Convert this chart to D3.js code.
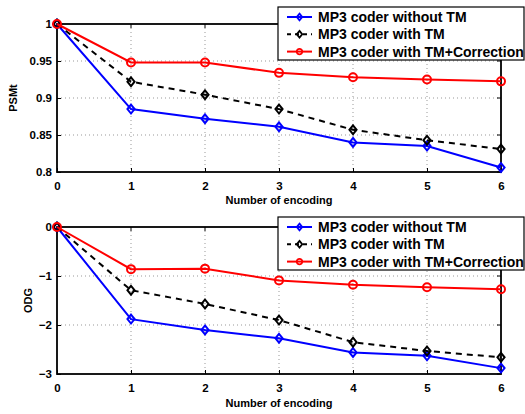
<!DOCTYPE html>
<html><head><meta charset="utf-8">
<script src="https://cdn.jsdelivr.net/npm/d3@7"></script>
<style>body{margin:0;background:#fff}svg{display:block}text{font-family:"Liberation Sans",Arial,sans-serif;font-weight:bold}</style>
</head><body><svg id="c" width="525" height="414"></svg>
<script>
const encodings = [0,1,2,3,4,5,6];
const seriesNames = ["MP3 coder without TM","MP3 coder with TM","MP3 coder with TM+Correction"];
const psmtWithout = [1,0.885,0.872,0.861,0.840,0.835,0.806];
const psmtWith    = [1,0.922,0.9045,0.885,0.857,0.843,0.831];
const psmtCorr    = [1,0.948,0.948,0.934,0.928,0.925,0.9225];
const odgWithout = [0,-1.88,-2.10,-2.27,-2.56,-2.63,-2.88];
const odgWith    = [0,-1.29,-1.57,-1.90,-2.35,-2.53,-2.66];
const odgCorr    = [0,-0.86,-0.85,-1.09,-1.18,-1.23,-1.27];
const psmtTicks = [0.8,0.85,0.9,0.95,1];
const psmtTickLabels = ["0.8","0.85","0.9","0.95","1"];
const odgTicks = [-3,-2,-1,0];
const odgTickLabels = ["\u22123","\u22122","\u22121","0"];

const styles = [
  {color:"#0000ff", dash:null, marker:"diamond"},
  {color:"#000000", dash:"6,5", marker:"diamond"},
  {color:"#ff0000", dash:null, marker:"circle"}
];
const svg = d3.select("#c");
function markerPath(type, r){
  if(type==="circle"){ const p=d3.path(); p.arc(0,0,r,0,2*Math.PI); return p.toString(); }
  const w=r*0.85, h=r*1.05;
  return `M0,${-h}L${w},0L0,${h}L${-w},0Z`;
}

function panel(cfg){
  const x = d3.scaleLinear().domain([0,6]).range([57,501]);
  const y = d3.scaleLinear().domain(cfg.domain).range([cfg.bottom,cfg.top]);
  const g = svg.append("g");
  g.selectAll(".gx").data(encodings.slice(1,-1)).join("line")
    .attr("x1",d=>x(d)).attr("x2",d=>x(d)).attr("y1",cfg.top).attr("y2",cfg.bottom)
    .attr("stroke","#999").attr("stroke-width",1).attr("stroke-dasharray","1,3");
  g.selectAll(".gy").data(cfg.ticks.slice(1,-1)).join("line")
    .attr("x1",x(0)).attr("x2",x(6)).attr("y1",d=>y(d)).attr("y2",d=>y(d))
    .attr("stroke","#999").attr("stroke-width",1).attr("stroke-dasharray","1,3");
  const xa = g.append("g").attr("transform",`translate(0,${cfg.bottom})`)
    .call(d3.axisBottom(x).tickValues(encodings).tickSize(-4).tickPadding(10).tickFormat(d3.format("d")));
  const ya = g.append("g").attr("transform",`translate(57,0)`)
    .call(d3.axisLeft(y).tickValues(cfg.ticks).tickSize(-4).tickPadding(5).tickFormat((d,i)=>cfg.labels[i]));
  [xa,ya].forEach(a=>{a.select(".domain").remove();
    a.selectAll("text").attr("font-size",11.5).attr("font-family","Liberation Sans, Arial").attr("font-weight","bold").attr("fill","#000");
    a.selectAll("line").attr("stroke","#000").attr("stroke-width",1);});
  g.selectAll(".tt").data(encodings).join("line").attr("x1",d=>x(d)).attr("x2",d=>x(d)).attr("y1",cfg.top).attr("y2",cfg.top+4).attr("stroke","#000");
  g.selectAll(".tr").data(cfg.ticks).join("line").attr("x1",501).attr("x2",497).attr("y1",d=>y(d)).attr("y2",d=>y(d)).attr("stroke","#000");
  g.append("rect").attr("x",57).attr("y",cfg.top).attr("width",444).attr("height",cfg.bottom-cfg.top)
    .attr("fill","none").attr("stroke","#000").attr("stroke-width",1.8);
  cfg.series.forEach((vals,i)=>{
    const s = styles[i];
    const line = d3.line().x((d,j)=>x(encodings[j])).y(d=>y(d));
    g.append("path").datum(vals).attr("d",line).attr("fill","none").attr("stroke",s.color)
      .attr("stroke-width",2).attr("stroke-dasharray",s.dash);
    g.selectAll(null).data(vals).join("path").attr("d",markerPath(s.marker, s.marker==="circle"?4:4.2))
      .attr("transform",(d,j)=>`translate(${x(encodings[j])},${y(d)})`)
      .attr("fill","none").attr("stroke",s.color).attr("stroke-width",2);
  });
  svg.append("text").attr("x",279).attr("y",cfg.xlabelY).attr("text-anchor","middle").attr("font-size",11).text("Number of encoding");
  svg.append("text").attr("transform",`translate(${cfg.ylabelX},${(cfg.top+cfg.bottom)/2}) rotate(-90)`).attr("text-anchor","middle").attr("font-size",11).text(cfg.ylabel);
  const lg = svg.append("g").attr("transform",`translate(278,${cfg.legTop})`);
  lg.append("rect").attr("width",246).attr("height",53).attr("fill","#fff").attr("stroke","#000").attr("stroke-width",1.2);
  seriesNames.forEach((n,i)=>{
    const s=styles[i]; const yy=10+i*17.3;
    lg.append("line").attr("x1",9).attr("x2",34).attr("y1",yy).attr("y2",yy).attr("stroke",s.color).attr("stroke-width",2).attr("stroke-dasharray",s.dash?"4,4":null);
    lg.append("path").attr("d",markerPath(s.marker, s.marker==="circle"?2.8:3.2)).attr("transform",`translate(21.5,${yy})`).attr("fill","none").attr("stroke",s.color).attr("stroke-width",1.8);
    lg.append("text").attr("x",40).attr("y",yy+5).attr("font-size",14).text(n);
  });
}

panel({domain:[0.8,1], top:24, bottom:172, ticks:psmtTicks, labels:psmtTickLabels, series:[psmtWithout,psmtWith,psmtCorr],
  xlabelY:204, ylabelX:17, ylabel:"PSMt", legTop:7});
panel({domain:[-3,0], top:227, bottom:374, ticks:odgTicks, labels:odgTickLabels, series:[odgWithout,odgWith,odgCorr],
  xlabelY:407, ylabelX:32, ylabel:"ODG", legTop:217});
</script></body></html>
